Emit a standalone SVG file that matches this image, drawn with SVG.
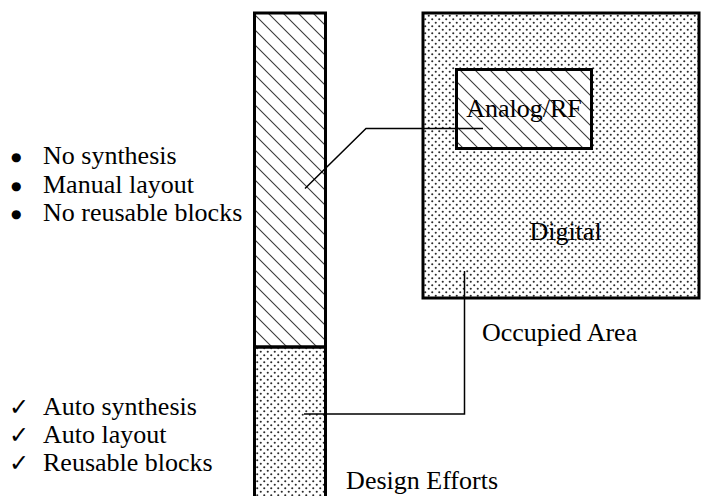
<svg xmlns="http://www.w3.org/2000/svg" width="701" height="496" viewBox="0 0 701 496">
<defs>
<pattern id="hatch" patternUnits="userSpaceOnUse" width="15" height="15">
<path d="M-3.75,-3.75 L18.75,18.75 M-18.75,-3.75 L3.75,18.75 M11.25,-3.75 L33.75,18.75" stroke="#3a3a3a" stroke-width="1.1" fill="none"/>
</pattern>
<pattern id="dots" patternUnits="userSpaceOnUse" width="7" height="7">
<circle cx="1.75" cy="1.75" r="1.05" fill="#2a2a2a"/>
<circle cx="5.25" cy="5.25" r="1.05" fill="#2a2a2a"/>
</pattern>
</defs>
<style>
.box{stroke:#000;stroke-width:3;}
.t{font-family:"Liberation Serif","Times New Roman",serif;font-size:26px;fill:#000;}
.bl{font-family:"DejaVu Sans",sans-serif;font-size:12px;fill:#000;}
.ck{font-family:"DejaVu Sans",sans-serif;font-size:24px;fill:#000;}
.con{stroke:#000;stroke-width:1.5;fill:none;}
</style>
<rect width="701" height="496" fill="#fff"/>
<g id="column-manual">
<rect class="box" x="254.5" y="13" width="71" height="334" fill="url(#hatch)"/>
</g>
<g id="column-auto">
<rect class="box" x="254.5" y="347" width="71" height="170" fill="url(#dots)"/>
</g>
<g id="digital">
<rect x="423" y="13" width="276" height="285" fill="url(#dots)"/>
<rect x="423" y="13" width="276" height="285" fill="none" class="box"/>
<text class="t" x="565.5" y="240" text-anchor="middle">Digital</text>
</g>
<g id="analog-rf">
<rect x="456.5" y="69.5" width="135" height="79" fill="#fff"/>
<rect x="456.5" y="69.5" width="135" height="79" fill="url(#hatch)"/>
<rect x="456.5" y="69.5" width="135" height="79" fill="none" class="box"/>
<text class="t" x="524" y="117" text-anchor="middle">Analog/RF</text>
</g>
<g id="connectors">
<polyline class="con" points="305,188.5 366,128.5 483,128.5"/>
<polyline class="con" points="304,414 464.5,414 464.5,271"/>
</g>
<g id="manual-list">
<text class="bl" x="11" y="161">●</text>
<text class="t" x="43" y="164">No synthesis</text>
<text class="bl" x="11" y="190">●</text>
<text class="t" x="43" y="193">Manual layout</text>
<text class="bl" x="11" y="218">●</text>
<text class="t" x="43" y="221">No reusable blocks</text>
</g>
<g id="auto-list">
<text class="ck" x="9" y="415">✓</text>
<text class="t" x="43" y="415">Auto synthesis</text>
<text class="ck" x="9" y="443">✓</text>
<text class="t" x="43" y="443">Auto layout</text>
<text class="ck" x="9" y="471">✓</text>
<text class="t" x="43" y="471">Reusable blocks</text>
</g>
<g id="labels">
<text class="t" x="482" y="341">Occupied Area</text>
<text class="t" x="498" y="489" text-anchor="end">Design Efforts</text>
</g>
</svg>
